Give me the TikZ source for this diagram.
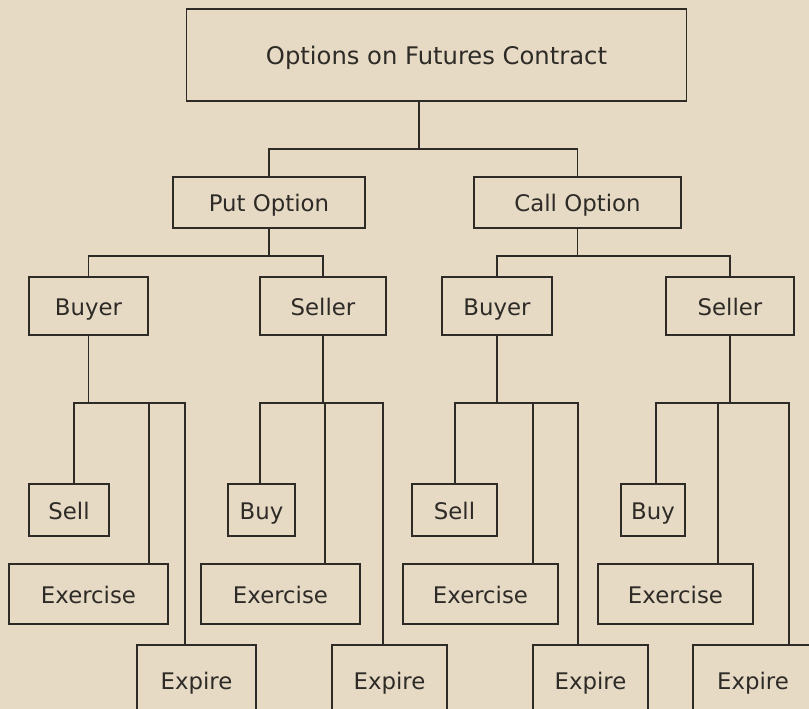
\documentclass[tikz,border=0pt]{standalone}
\usepackage{fontspec}
\setmainfont{DejaVu Sans}
\usepackage{xcolor}
\usepackage{tikz}
\definecolor{paper}{HTML}{E6DAC5}
\definecolor{ink}{HTML}{2E2B27}
\tikzstyle{treebox} = [rectangle, draw=ink, text=ink, line width=0.6pt, inner sep=0pt,
  text height=1.05em, text depth=0em, font=\fontsize{13}{15}\selectfont]
\tikzstyle{optbox} = [treebox, minimum height=1.02cm]
\tikzstyle{rolebox} = [treebox, minimum height=1.16cm]
\tikzstyle{actbox} = [treebox, minimum height=1.04cm]
\tikzstyle{exbox} = [treebox, minimum height=1.2cm]
\tikzstyle{endbox} = [treebox, minimum height=1.4cm]
\tikzstyle{link} = [draw=ink, line width=0.6pt]

\begin{document}
\begin{tikzpicture}[x=0.02cm, y=-0.02cm]
  \clip (0,0) rectangle (809,709);
  \fill[paper] (0,0) rectangle (809,709);

  \node (root) [treebox, minimum width=10.02cm, minimum height=1.84cm,
    font=\fontsize{13.8}{16}\selectfont] at (436.5,55) {Options on Futures Contract};
  \node (put)  [optbox, minimum width=3.84cm] at (269,202.5) {Put Option};
  \node (call) [optbox, minimum width=4.14cm] at (577.5,202.5) {Call Option};

  \node (buy1) [rolebox, minimum width=2.38cm] at (88.5,306) {Buyer};
  \node (sel1) [rolebox, minimum width=2.52cm] at (323,306) {Seller};
  \node (buy2) [rolebox, minimum width=2.2cm]  at (497,306) {Buyer};
  \node (sel2) [rolebox, minimum width=2.56cm] at (730,306) {Seller};

  \node (act1)  [actbox, minimum width=1.6cm]  at (69,510)    {Sell};
  \node (exer1) [exbox, minimum width=3.18cm]  at (88.5,594)  {Exercise};
  \node (exp1)  [endbox, minimum width=2.38cm] at (196.5,680) {Expire};
  \node (act2)  [actbox, minimum width=1.34cm] at (261.5,510) {Buy};
  \node (exer2) [exbox, minimum width=3.18cm]  at (280.5,594) {Exercise};
  \node (exp2)  [endbox, minimum width=2.3cm]  at (389.5,680) {Expire};
  \node (act3)  [actbox, minimum width=1.7cm]  at (454.5,510) {Sell};
  \node (exer3) [exbox, minimum width=3.1cm]   at (480.5,594) {Exercise};
  \node (exp3)  [endbox, minimum width=2.3cm]  at (590.5,680) {Expire};
  \node (act4)  [actbox, minimum width=1.28cm] at (653,510)   {Buy};
  \node (exer4) [exbox, minimum width=3.1cm]   at (675.5,594) {Exercise};
  \node (exp4)  [endbox, minimum width=2.4cm]  at (753,680)   {Expire};

  % root to put / call
  \coordinate (j0) at (419,149);
  \draw[link] (root.south -| j0) -- (j0);
  \draw[link] (put.north) |- (j0) -| (call.north);

  % options to buyer / seller
  \coordinate (j1) at (269,256);
  \coordinate (j2) at (577.5,256);
  \draw[link] (put.south) -- (j1);
  \draw[link] (buy1.north) |- (j1) -| (sel1.north);
  \draw[link] (call.south) -- (j2);
  \draw[link] (buy2.north) |- (j2) -| (sel2.north);

  % buyer / seller to their three outcomes
  \foreach \role/\act/\ex/\en/\xa/\xb/\xc in {buy1/act1/exer1/exp1/74/149/185,
      sel1/act2/exer2/exp2/260/325/383, buy2/act3/exer3/exp3/455/533/578,
      sel2/act4/exer4/exp4/656/718/789} {
    \coordinate (fa) at (\xa,403);
    \coordinate (fb) at (\xb,403);
    \coordinate (fc) at (\xc,403);
    \draw[link] (\role.south) -- (\role.south |- fa);
    \draw[link] (fa |- \act.north) -- (fa) -- (fc) -- (fc |- \en.north);
    \draw[link] (fb) -- (fb |- \ex.north);
  }
\end{tikzpicture}
\end{document}
